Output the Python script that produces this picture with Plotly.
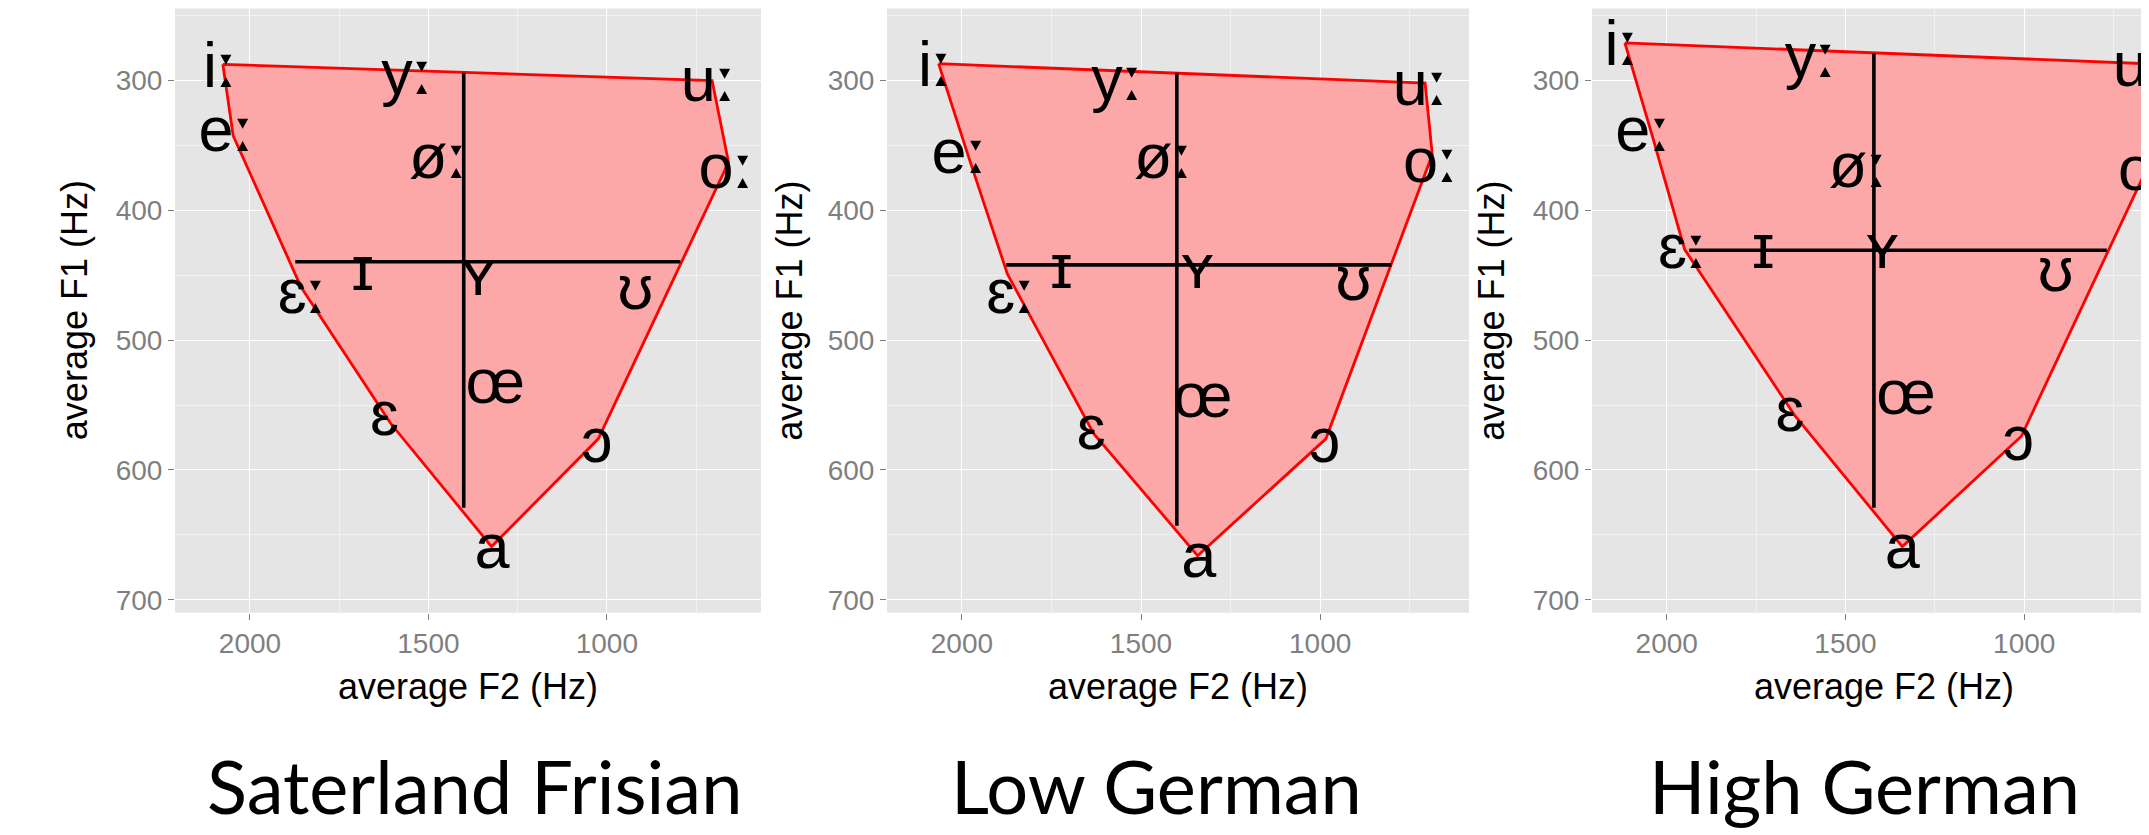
import plotly.graph_objects as go

# ---------------- data ----------------
vowels = ["iː", "yː", "uː", "eː", "øː", "oː", "ɛː", "ɪ", "ʏ", "ʊ", "œ", "ɛ", "ɔ", "a"]

# Saterland Frisian: label positions (F2, F1 in Hz)
sf_f2 = [2082, 1558, 714, 2065, 1471, 664, 1852, 1684, 1360, 920, 1313, 1623, 1028, 1322]
sf_f1 = [293, 298, 304, 342, 363, 371, 467, 449, 453, 464, 536, 561, 582, 663]
# Low German
lg_f2 = [2073, 1565, 719, 2006, 1436, 690, 1862, 1722, 1343, 907, 1328, 1639, 988, 1339]
lg_f1 = [292, 303, 307, 359, 363, 366, 467, 448, 448, 457, 547, 572, 582, 670]
# High German
hg_f2 = [2125, 1596, 674, 2065, 1463, 659, 1954, 1730, 1397, 912, 1331, 1655, 1017, 1341]
hg_f1 = [276, 285, 292, 342, 370, 372, 432, 432, 432, 450, 545, 558, 580, 663]

# vowel-space hull (corner vowels iː, eː, ɛː, ɛ, a, ɔ, oː, uː)
hull_names = ["iː", "eː", "ɛː", "ɛ", "a", "ɔ", "oː", "uː"]
sf_hull_f2 = [2076, 2047, 1857, 1606, 1323, 1024, 659, 705]
sf_hull_f1 = [287.5, 342.5, 459, 564, 659, 576, 363, 300]
lg_hull_f2 = [2065, 1981, 1873, 1632, 1342, 984, 687, 707]
lg_hull_f1 = [287, 359, 449, 572, 666, 576, 357, 302]
hg_hull_f2 = [2117, 2040, 1950, 1642, 1341, 1008, 654, 662]
hg_hull_f1 = [271, 343, 430, 558, 659, 574, 366, 287]

# centre cross (vertical: F2 value, F1 span; horizontal: F1 value, F2 span)
sf_cross = {"v_f2": 1401, "v_f1": [294, 629], "h_f1": 439.6, "h_f2": [1873, 794]}
lg_cross = {"v_f2": 1400, "v_f1": [294, 643], "h_f1": 442, "h_f2": [1876, 801]}
hg_cross = {"v_f2": 1420.5, "v_f1": [279, 629], "h_f1": 430.7, "h_f2": [1937, 769]}

titles = ["Saterland Frisian", "Low German", "High German"]
x_ranges = [[2210, 568], [2209, 584.5], [2209, 651]]
y_range = [710, 244.5]
x_ticks = [2000, 1500, 1000]
y_ticks = [300, 400, 500, 600, 700]

# ---------------- layout geometry (page pixels) ----------------
OFF = 8                      # default page body margin
W, H = 2149 - OFF, 835 - OFF
panels_px = [(175, 761), (887, 1469), (1592, 2149)]
panel_top, panel_bottom = 8.5, 615
xtitle_centers = [468, 1178, 1884]
ytitle_centers = [74.5, 790, 1492]
title_centers = [474.5, 1156, 1864]

def px_x(p):
    return min(1.0, (p - OFF) / W)

def px_y(p):
    return 1 - (p - OFF) / H

LABEL_FONT = "Liberation Sans, Arial, DejaVu Sans, sans-serif"

def ipa(label):
    # render the length mark with a font that draws it as two solid triangles
    return label.replace("ː", '<span style="font-family:DejaVu Sans">ː</span>')

fig = go.Figure()

panels = [
    (sf_f2, sf_f1, sf_hull_f2, sf_hull_f1, sf_cross),
    (lg_f2, lg_f1, lg_hull_f2, lg_hull_f1, lg_cross),
    (hg_f2, hg_f1, hg_hull_f2, hg_hull_f1, hg_cross),
]

for i, (f2, f1, hf2, hf1, cr) in enumerate(panels):
    xa = "x" if i == 0 else f"x{i+1}"
    ya = "y" if i == 0 else f"y{i+1}"
    fig.add_trace(go.Scatter(
        x=hf2 + [hf2[0]], y=hf1 + [hf1[0]], mode="lines", fill="toself",
        fillcolor="#FCA8A8", line=dict(color="#FF0000", width=2.8),
        xaxis=xa, yaxis=ya, hoverinfo="skip", showlegend=False))
    fig.add_trace(go.Scatter(
        x=[cr["v_f2"], cr["v_f2"]], y=cr["v_f1"], mode="lines",
        line=dict(color="black", width=3.6), xaxis=xa, yaxis=ya,
        hoverinfo="skip", showlegend=False))
    fig.add_trace(go.Scatter(
        x=cr["h_f2"], y=[cr["h_f1"], cr["h_f1"]], mode="lines",
        line=dict(color="black", width=3.6), xaxis=xa, yaxis=ya,
        hoverinfo="skip", showlegend=False))
    fig.add_trace(go.Scatter(
        x=f2, y=f1, mode="text", text=[ipa(v) for v in vowels],
        textposition="middle center",
        textfont=dict(family=LABEL_FONT, size=63, color="black"),
        xaxis=xa, yaxis=ya, hoverinfo="skip", showlegend=False))

axis_common = dict(
    showline=False, zeroline=False, showgrid=True, gridcolor="white", gridwidth=1.4,
    ticks="outside", ticklen=6, tickwidth=1.4, tickcolor="#7F7F7F",
    tickfont=dict(family=LABEL_FONT, size=28, color="#7F7F7F"),
)

layout = dict(
    width=W, height=H, margin=dict(l=0, r=0, t=0, b=0),
    paper_bgcolor="white", plot_bgcolor="#E5E5E5", showlegend=False,
)

for i in range(3):
    xkey = "xaxis" if i == 0 else f"xaxis{i+1}"
    ykey = "yaxis" if i == 0 else f"yaxis{i+1}"
    yanchor_name = "y" if i == 0 else f"y{i+1}"
    xanchor_name = "x" if i == 0 else f"x{i+1}"
    x0, x1 = panels_px[i]
    layout[xkey] = dict(
        axis_common, domain=[px_x(x0), px_x(x1)], range=x_ranges[i],
        anchor=yanchor_name, tickmode="array", tickvals=x_ticks,
        ticktext=[str(v) for v in x_ticks],
        minor=dict(tickmode="array", tickvals=[2250, 1750, 1250, 750],
                   showgrid=True, gridcolor="#F2F2F2", gridwidth=1.2, ticks=""),
    )
    layout[ykey] = dict(
        axis_common, domain=[px_y(panel_bottom), px_y(panel_top)], range=y_range,
        anchor=xanchor_name, tickmode="array", tickvals=y_ticks,
        ticktext=[str(v) for v in y_ticks],
        minor=dict(tickmode="array", tickvals=[250, 350, 450, 550, 650],
                   showgrid=True, gridcolor="#F2F2F2", gridwidth=1.2, ticks=""),
    )

fig.update_layout(**layout)

annotations = []
for i in range(3):
    annotations.append(dict(
        text="average F2 (Hz)", x=px_x(xtitle_centers[i]), y=px_y(689),
        xref="paper", yref="paper", xanchor="center", yanchor="middle",
        showarrow=False, font=dict(family=LABEL_FONT, size=36, color="black")))
    annotations.append(dict(
        text="average F1 (Hz)", x=px_x(ytitle_centers[i]), y=px_y((panel_top + panel_bottom) / 2),
        xref="paper", yref="paper", xanchor="center", yanchor="middle", textangle=-90,
        showarrow=False, font=dict(family=LABEL_FONT, size=36, color="black")))
    annotations.append(dict(
        text=titles[i], x=px_x(title_centers[i]), y=px_y(788),
        xref="paper", yref="paper", xanchor="center", yanchor="middle",
        showarrow=False, font=dict(family="Lato, Open Sans, sans-serif", size=74, color="black")))

fig.update_layout(annotations=annotations)

fig.write_html("out.html")
